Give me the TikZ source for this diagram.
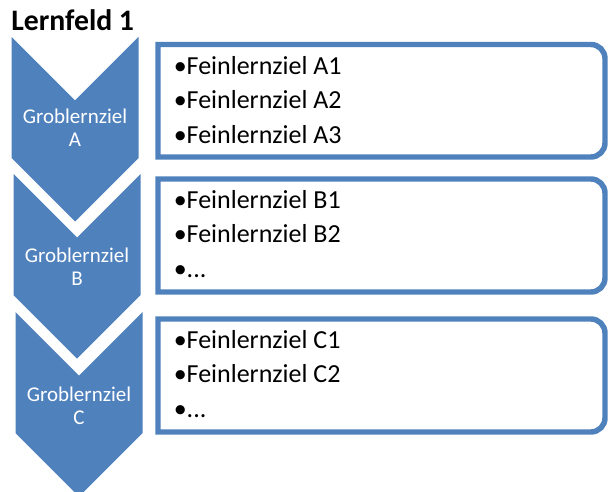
\documentclass[tikz,border=0pt]{standalone}
\usepackage{fontspec}
\setmainfont{Carlito}
\definecolor{smartblue}{HTML}{4F81BD}
\tikzset{
  chev/.style={fill=smartblue},
  grobtext/.style={text=white, align=center, inner sep=0pt, font=\fontsize{15.75}{17}\selectfont},
  feinbox/.style={draw=smartblue, line width=4.1pt, fill=white},
  feintext/.style={anchor=west, align=left, inner sep=0pt, font=\fontsize{19.5}{25.9}\selectfont}
}
\begin{document}
\begin{tikzpicture}[x=0.75pt, y=-0.75pt]
\useasboundingbox (0,0) rectangle (608,492);
\node[anchor=base west, inner sep=0pt, font=\bfseries\fontsize{22.3}{26}\selectfont] (title) at (11,30.7) {Lernfeld 1};
% chevrons
\fill[chev] (11.5,37) -- ++(63.5,63.5) -- ++(63.5,-63.5) -- ++(0,121) -- ++(-63.5,63.5) -- ++(-63.5,-63.5) -- cycle;
\fill[chev] (13.5,174) -- ++(63.5,63.5) -- ++(63.5,-63.5) -- ++(0,121) -- ++(-63.5,63.5) -- ++(-63.5,-63.5) -- cycle;
\fill[chev] (15.5,312) -- ++(63.5,63.5) -- ++(63.5,-63.5) -- ++(0,121) -- ++(-63.5,63.5) -- ++(-63.5,-63.5) -- cycle;
\node[grobtext] (gA) at (75,128) {Groblernziel\\A};
\node[grobtext] (gB) at (77,266.4) {Groblernziel\\B};
\node[grobtext] (gC) at (79,405.5) {Groblernziel\\C};
% boxes
\draw[feinbox] (158,157) -- (158,44.5) -- (591,44.5) arc[start angle=-90, end angle=0, radius=14] -- (605,143) arc[start angle=0, end angle=90, radius=14] -- cycle;
\draw[feinbox] (158,292) -- (158,179) -- (591,179) arc[start angle=-90, end angle=0, radius=14] -- (605,278) arc[start angle=0, end angle=90, radius=14] -- cycle;
\draw[feinbox] (158,432) -- (158,319) -- (591,319) arc[start angle=-90, end angle=0, radius=14] -- (605,418) arc[start angle=0, end angle=90, radius=14] -- cycle;
\node[feintext] (fA) at (173.5,99.7) {•Feinlernziel A1\\•Feinlernziel A2\\•Feinlernziel A3};
\node[feintext] (fB) at (173.5,233.7) {•Feinlernziel B1\\•Feinlernziel B2\\•...};
\node[feintext] (fC) at (173.5,373.7) {•Feinlernziel C1\\•Feinlernziel C2\\•...};
\end{tikzpicture}
\end{document}
